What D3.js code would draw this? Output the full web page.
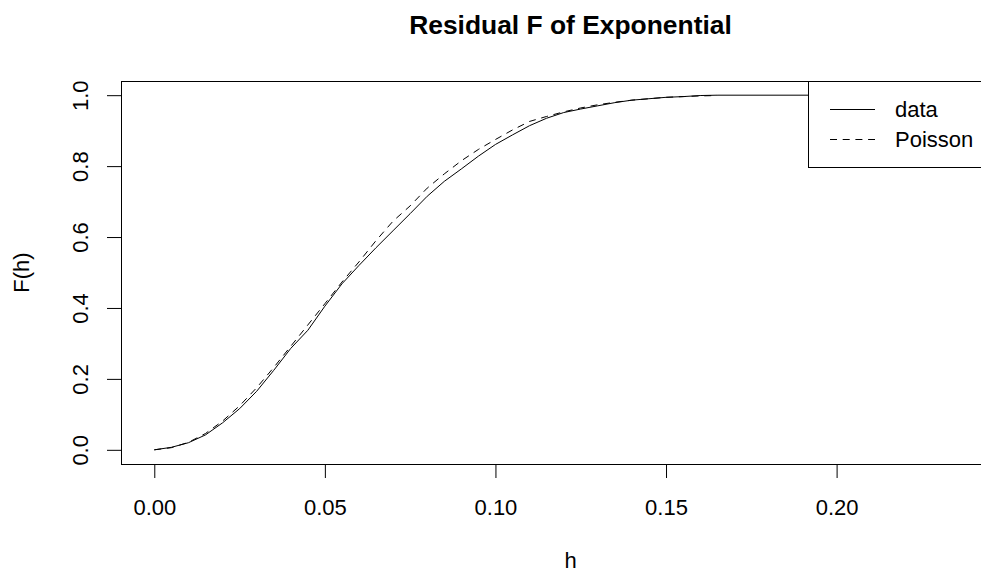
<!DOCTYPE html>
<html>
<head>
<meta charset="utf-8">
<script src="https://cdn.jsdelivr.net/npm/d3@7"></script>
<style>
  body { margin: 0; background: #fff; }
  svg { display: block; font-family: "Liberation Sans", Arial, sans-serif; }
</style>
</head>
<body>
<div id="grafico"></div>
<script>
// Values
const hValues     = [0, 0.005, 0.010, 0.015, 0.020, 0.025, 0.030, 0.035, 0.040, 0.045,
                     0.050, 0.055, 0.060, 0.065, 0.070, 0.075, 0.080, 0.085, 0.090, 0.095,
                     0.100, 0.105, 0.110, 0.115, 0.120, 0.125, 0.130, 0.135, 0.140, 0.145,
                     0.150, 0.155, 0.160, 0.165];
const dataF       = [0, 0.007, 0.020, 0.042, 0.076, 0.116, 0.165, 0.224, 0.286, 0.337,
                     0.405, 0.468, 0.520, 0.570, 0.618, 0.666, 0.715, 0.757, 0.792, 0.828,
                     0.861, 0.888, 0.914, 0.935, 0.951, 0.961, 0.970, 0.979, 0.986, 0.990,
                     0.994, 0.996, 0.999, 1.0];
const dataTailH   = [0.244];
const dataTailF   = [1.0];
const poissonF    = [0, 0.006, 0.021, 0.046, 0.081, 0.124, 0.175, 0.232, 0.292, 0.352,
                     0.412, 0.473, 0.530, 0.590, 0.645, 0.688, 0.738, 0.778, 0.815, 0.847,
                     0.875, 0.902, 0.926, 0.940, 0.953, 0.964, 0.973, 0.980, 0.986, 0.990,
                     0.994, 0.996, 0.998, 0.999];
const xTicks      = [0, 0.05, 0.10, 0.15, 0.20];
const yTicks      = [0, 0.2, 0.4, 0.6, 0.8, 1.0];
const legendNames = ["data", "Poisson"];

const width  = 981;
const height = 579;
const plot   = { left: 121, right: 1020, top: 81, bottom: 464 };
const dash   = "7,5.7";

const svg = d3.select("#grafico")
              .append("svg")
              .attr("width", width)
              .attr("height", height);

// R style scales with 4% padding
const hMax = d3.max(dataTailH);
const x = d3.scaleLinear()
            .domain([-0.04 * hMax, hMax * 1.04])
            .range([plot.left, plot.right]);

const y = d3.scaleLinear()
            .domain([-0.04, 1.04])
            .range([plot.bottom, plot.top]);

const dataPoints    = hValues.map((h, i) => [h, dataF[i]])
                             .concat(dataTailH.map((h, i) => [h, dataTailF[i]]));
const poissonPoints = hValues.map((h, i) => [h, poissonF[i]]);

const line = d3.line()
               .x(d => x(d[0]))
               .y(d => y(d[1]));

svg.append("path")
   .datum(poissonPoints)
   .attr("d", line)
   .attr("fill", "none")
   .attr("stroke", "#000")
   .attr("stroke-width", 1)
   .attr("stroke-dasharray", dash);

svg.append("path")
   .datum(dataPoints)
   .attr("d", line)
   .attr("fill", "none")
   .attr("stroke", "#000")
   .attr("stroke-width", 1);

// X axis
const xAxis = svg.append("g")
                 .attr("transform", `translate(0, ${plot.bottom})`)
                 .call(d3.axisBottom(x)
                         .tickValues(xTicks)
                         .tickSize(14)
                         .tickFormat(d3.format(".2f")));
xAxis.select(".domain").remove();
xAxis.selectAll("line").attr("stroke", "#000");
xAxis.selectAll("text")
     .attr("y", 51)
     .attr("dy", 0)
     .attr("fill", "#000")
     .attr("font-size", "22px")
     .attr("font-family", "Liberation Sans, Arial, sans-serif");

// Y axis
const yAxis = svg.append("g")
                 .attr("transform", `translate(${plot.left}, 0)`)
                 .call(d3.axisLeft(y)
                         .tickValues(yTicks)
                         .tickSize(14)
                         .tickFormat(d3.format(".1f")));
yAxis.select(".domain").remove();
yAxis.selectAll("line").attr("stroke", "#000");
yAxis.selectAll("text")
     .attr("transform", "rotate(-90)")
     .attr("x", 0)
     .attr("y", -33)
     .attr("dy", 0)
     .attr("text-anchor", "middle")
     .attr("fill", "#000")
     .attr("font-size", "22px")
     .attr("font-family", "Liberation Sans, Arial, sans-serif");

// Box around plot
svg.append("rect")
   .attr("x", plot.left + 0.5)
   .attr("y", plot.top + 0.5)
   .attr("width", plot.right - plot.left)
   .attr("height", plot.bottom - plot.top)
   .attr("fill", "none")
   .attr("stroke", "#000");

// Legend top right
const legend = svg.append("g");
legend.append("rect")
      .attr("x", 808.5)
      .attr("y", plot.top + 0.5)
      .attr("width", plot.right - 808)
      .attr("height", 86)
      .attr("fill", "#fff")
      .attr("stroke", "#000");

legendNames.forEach((name, i) => {
    const ly = 109.5 + i * 30;
    legend.append("line")
          .attr("x1", 830)
          .attr("x2", 875)
          .attr("y1", ly)
          .attr("y2", ly)
          .attr("stroke", "#000")
          .attr("stroke-dasharray", i === 1 ? dash : null);
    legend.append("text")
          .attr("x", 895)
          .attr("y", ly)
          .attr("dy", "0.35em")
          .attr("font-size", "22px")
          .text(name);
});

// Title and axis labels
svg.append("text")
   .attr("x", (plot.left + plot.right) / 2)
   .attr("y", 34)
   .attr("text-anchor", "middle")
   .attr("font-size", "26.4px")
   .attr("font-weight", "bold")
   .text("Residual F of Exponential");

svg.append("text")
   .attr("x", (plot.left + plot.right) / 2)
   .attr("y", 568)
   .attr("text-anchor", "middle")
   .attr("font-size", "22px")
   .text("h");

svg.append("text")
   .attr("x", -((plot.top + plot.bottom) / 2))
   .attr("y", 29)
   .attr("text-anchor", "middle")
   .attr("transform", "rotate(-90)")
   .attr("font-size", "22px")
   .text("F(h)");
</script>
</body>
</html>
